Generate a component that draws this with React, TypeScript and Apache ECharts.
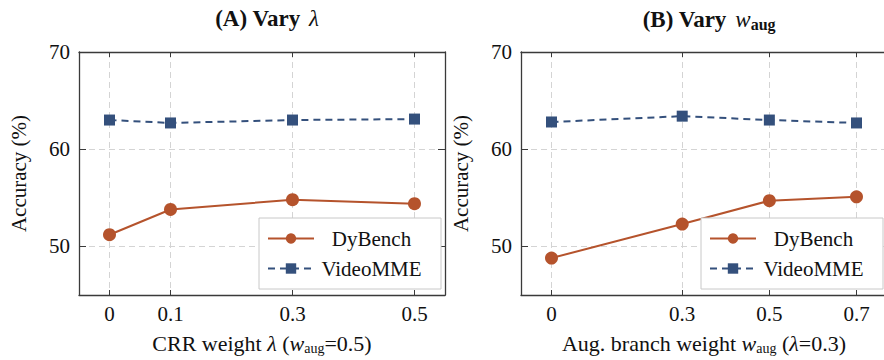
import React, { useEffect, useRef } from "react";
import * as echarts from "echarts";

const lambdaX = [0, 0.1, 0.3, 0.5];
const dyBenchA = [51.2, 53.8, 54.8, 54.4];
const videoMMEA = [63.0, 62.7, 63.0, 63.1];

const waugX = [0, 0.3, 0.5, 0.7];
const dyBenchB = [48.8, 52.3, 54.7, 55.1];
const videoMMEB = [62.8, 63.4, 63.0, 62.7];

const yTicks = [50, 60, 70];
const seriesNames = ["DyBench", "VideoMME"];

const FONT = "'Liberation Serif', 'Times New Roman', serif";
const ORANGE = "#b5532c";
const BLUE = "#34507c";
const AXIS = "#3a3a3a";
const GRID = "#d4d4d4";
const TXT = "#111";

const pairs = (xs: number[], ys: number[]) => xs.map((x, i) => [x, ys[i]]);

export default function App() {
  const ref = useRef<HTMLDivElement>(null);
  useEffect(() => {
    if (!ref.current) return;
    const chart = echarts.init(ref.current, null, { renderer: "svg" });

    const richCommon = {
      i: { fontFamily: FONT, fontStyle: "italic", fontSize: 22, color: TXT },
      sub: { fontFamily: FONT, fontSize: 14, color: TXT, verticalAlign: "bottom", padding: [9, 0, 0, 0] },
    };

    const mkX = (gridIndex: number, min: number, max: number, ticks: number[], nameText: string) => [
      {
        type: "value",
        gridIndex,
        position: "bottom",
        min,
        max,
        name: nameText,
        nameLocation: "middle",
        nameGap: 37,
        nameTextStyle: {
          fontFamily: FONT,
          fontSize: 22,
          color: TXT,
          rich: richCommon,
        },
        axisLine: { show: true, onZero: false, lineStyle: { color: AXIS, width: 1.3 } },
        axisTick: { show: true, inside: true, length: 5, customValues: ticks, lineStyle: { color: AXIS, width: 1 } },
        axisLabel: {
          customValues: ticks,
          margin: 8,
          fontFamily: FONT,
          fontSize: 21,
          color: TXT,
          formatter: (v: number) => String(v),
        },
        splitLine: { show: true, lineStyle: { color: GRID, type: [6, 4], width: 1 } },
      },
      {
        type: "value",
        gridIndex,
        position: "top",
        min,
        max,
        axisLine: { show: true, onZero: false, lineStyle: { color: AXIS, width: 1.3 } },
        axisTick: { show: true, inside: true, length: 5, customValues: ticks, lineStyle: { color: AXIS, width: 1 } },
        axisLabel: { show: false },
        splitLine: { show: false },
      },
    ];

    const mkY = (gridIndex: number, showRight: boolean) => [
      {
        type: "value",
        gridIndex,
        position: "left",
        min: 45,
        max: 70,
        name: "Accuracy (%)",
        nameLocation: "middle",
        nameGap: 50,
        nameTextStyle: { fontFamily: FONT, fontSize: 21, color: TXT },
        axisLine: { show: true, onZero: false, lineStyle: { color: AXIS, width: 1.3 } },
        axisTick: { show: true, inside: true, length: 7, customValues: yTicks, lineStyle: { color: AXIS, width: 1 } },
        axisLabel: { customValues: yTicks, margin: 9, fontFamily: FONT, fontSize: 21, color: TXT },
        splitLine: { show: true, lineStyle: { color: GRID, type: [6, 4], width: 1 } },
      },
      {
        type: "value",
        gridIndex,
        position: "right",
        min: 45,
        max: 70,
        show: showRight,
        axisLine: { show: true, onZero: false, lineStyle: { color: AXIS, width: 1.3 } },
        axisTick: { show: true, inside: true, length: 7, customValues: yTicks, lineStyle: { color: AXIS, width: 1 } },
        axisLabel: { show: false },
        splitLine: { show: false },
      },
    ];

    const mkSeries = (xIdx: number, yIdx: number, xs: number[], dy: number[], vm: number[]) => [
      {
        type: "line",
        name: seriesNames[0],
        xAxisIndex: xIdx,
        yAxisIndex: yIdx,
        data: pairs(xs, dy),
        symbol: "circle",
        symbolSize: 13,
        lineStyle: { color: ORANGE, width: 2 },
        itemStyle: { color: ORANGE },
        z: 3,
      },
      {
        type: "line",
        name: seriesNames[1],
        xAxisIndex: xIdx,
        yAxisIndex: yIdx,
        data: pairs(xs, vm),
        symbol: "rect",
        symbolSize: 11,
        lineStyle: { color: BLUE, width: 2, type: [7, 5] },
        itemStyle: { color: BLUE },
        z: 3,
      },
    ];

    const mkLegend = (left: number, seriesIds: string[]) => ({
      left,
      top: 218,
      orient: "vertical",
      data: seriesIds,
      itemWidth: 46,
      itemHeight: 13,
      itemGap: 9,
      padding: [10, 17, 10, 8],
      borderColor: "#c8c8c8",
      borderWidth: 1,
      backgroundColor: "#fff",
      formatter: (name: string) => `{c|${name}}`,
      textStyle: {
        fontFamily: FONT,
        fontSize: 21,
        color: TXT,
        rich: {
          c: { fontFamily: FONT, fontSize: 21, color: TXT, width: 105, align: "center", lineHeight: 20 },
        },
      },
    });

    const option: any = {
      animation: false,
      backgroundColor: "#fff",
      title: [
        {
          text: "(A) Vary {i|λ}",
          left: 262,
          top: 2,
          textAlign: "center",
          textStyle: {
            fontFamily: FONT,
            fontWeight: "bold",
            fontSize: 23,
            color: TXT,
            rich: { i: { fontFamily: FONT, fontStyle: "italic", fontWeight: "normal", fontSize: 23, color: TXT, padding: [0, 0, 0, 3] } },
          },
        },
        {
          text: "(B) Vary {i|w}{sub|aug}",
          left: 704,
          top: 2,
          textAlign: "center",
          textStyle: {
            fontFamily: FONT,
            fontWeight: "bold",
            fontSize: 23,
            color: TXT,
            rich: {
              i: { fontFamily: FONT, fontStyle: "italic", fontWeight: "normal", fontSize: 23, color: TXT, padding: [0, 0, 0, 3] },
              sub: { fontFamily: FONT, fontWeight: "bold", fontSize: 16, color: TXT, verticalAlign: "bottom", padding: [9, 0, 0, 0] },
            },
          },
        },
      ],
      grid: [
        { left: 79, top: 52, width: 366, height: 243, outerBoundsMode: "none", containLabel: false },
        { left: 521, top: 52, width: 366, height: 243, outerBoundsMode: "none", containLabel: false },
      ],
      xAxis: [
        ...mkX(0, -0.05, 0.55, lambdaX, "CRR weight {i|λ} ({i|w}{sub|aug}=0.5)"),
        ...mkX(1, -0.07, 0.77, waugX, "Aug. branch weight {i|w}{sub|aug} ({i|λ}=0.3)"),
      ],
      yAxis: [...mkY(0, true), ...mkY(1, false)],
      legend: [mkLegend(259, seriesNames), mkLegend(701, seriesNames)],
      series: [...mkSeries(0, 0, lambdaX, dyBenchA, videoMMEA), ...mkSeries(2, 2, waugX, dyBenchB, videoMMEB)],
    };

    chart.setOption(option);
    return () => chart.dispose();
  }, []);

  return <div ref={ref} style={{ position: "absolute", left: 0, top: 0, width: 884, height: 360 }} />;
}
